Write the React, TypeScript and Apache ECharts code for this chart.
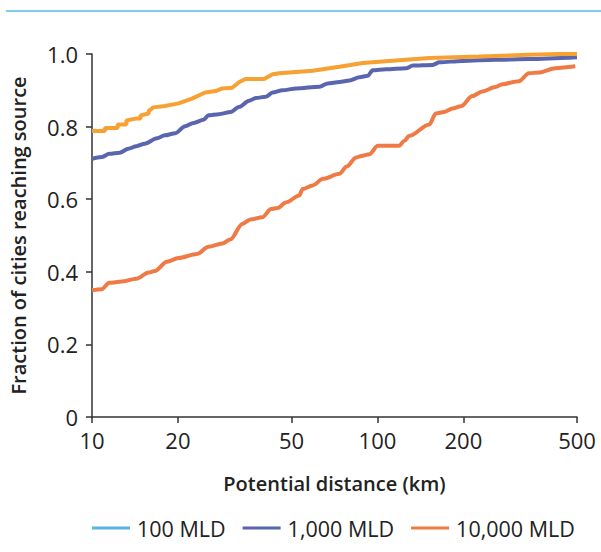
import React, { useEffect, useRef } from "react";
import * as echarts from "echarts";

const xTicks = [10, 20, 50, 100, 200, 500];
const yTicks = [0, 0.2, 0.4, 0.6, 0.8, 1.0];

const seriesNames = ["100 MLD", "1,000 MLD", "10,000 MLD"];

const dist100 = [10, 11.1, 11.1, 12.3, 12.3, 13.2, 13.2, 14.2, 14.8, 14.8, 15.8, 15.8, 16.4, 18.0, 20.1, 22.4, 24.9, 27.1, 28.6, 31.0, 32.7, 34.5, 40.1, 42.9, 45.3, 59.3, 73.6, 88.8, 116, 152, 227, 339, 431, 500];
const frac100 = [0.788, 0.788, 0.796, 0.796, 0.806, 0.806, 0.817, 0.822, 0.822, 0.831, 0.836, 0.843, 0.853, 0.857, 0.864, 0.877, 0.894, 0.898, 0.905, 0.907, 0.922, 0.931, 0.931, 0.944, 0.947, 0.954, 0.965, 0.975, 0.982, 0.989, 0.993, 0.998, 1.0, 1.0];

const dist1000 = [10, 10.8, 11.5, 12.5, 13.4, 14.3, 15.3, 16.9, 18.0, 19.6, 21.2, 22.7, 24.6, 25.6, 27.8, 30.6, 32.7, 35.5, 37.5, 40.6, 42.9, 46.5, 51.9, 62.7, 67.0, 73.6, 79.8, 86.5, 92.5, 96.2, 107, 126, 133, 156, 165, 198, 259, 339, 500];
const frac1000 = [0.711, 0.716, 0.725, 0.728, 0.739, 0.746, 0.753, 0.768, 0.776, 0.782, 0.801, 0.81, 0.819, 0.831, 0.834, 0.84, 0.854, 0.871, 0.879, 0.882, 0.894, 0.9, 0.905, 0.91, 0.919, 0.923, 0.927, 0.936, 0.94, 0.955, 0.958, 0.961, 0.968, 0.97, 0.977, 0.981, 0.984, 0.986, 0.991];

const dist10000 = [10, 10.8, 11.5, 12.7, 14.3, 15.8, 16.6, 18.3, 20.1, 23.3, 25.6, 28.6, 30.6, 33.6, 35.9, 39.5, 42.4, 44.7, 47.8, 53.2, 54.7, 59.3, 64.4, 73.6, 78, 84.2, 87.7, 93.7, 100.3, 119, 124, 129, 152, 160, 171, 183, 196, 215, 233, 259, 274, 313, 339, 367, 420, 493];
const frac10000 = [0.349, 0.352, 0.37, 0.373, 0.381, 0.398, 0.402, 0.428, 0.438, 0.449, 0.469, 0.478, 0.49, 0.532, 0.544, 0.55, 0.573, 0.576, 0.591, 0.61, 0.628, 0.638, 0.656, 0.67, 0.69, 0.715, 0.719, 0.724, 0.747, 0.747, 0.76, 0.774, 0.806, 0.836, 0.84, 0.85, 0.856, 0.884, 0.897, 0.909, 0.917, 0.925, 0.947, 0.949, 0.961, 0.966];

const lineColors = ["#f7a133", "#5a65b0", "#ef7a45"];
const legendColors = ["#5ab3e4", "#5a65b0", "#ef7a45"];

const FONT = "'Open Sans', 'Noto Sans', sans-serif";

function zip(xs: number[], ys: number[]) {
  return xs.map((x, i) => [x, ys[i]]);
}

export default function App() {
  const ref = useRef<HTMLDivElement>(null);
  useEffect(() => {
    if (!ref.current) return;
    const chart = echarts.init(ref.current, null, { renderer: "svg" });
    const datasets = [zip(dist100, frac100), zip(dist1000, frac1000), zip(dist10000, frac10000)];
    chart.setOption({
      animation: false,
      textStyle: { fontFamily: FONT },
      graphic: [
        {
          type: "rect",
          shape: { x: 6, y: 10, width: 595, height: 2 },
          style: { fill: "#7ecbea" },
          silent: true,
        },
      ],
      grid: { left: 92, right: 24, top: 54, bottom: 135, containLabel: false },
      legend: {
        left: 92,
        top: 512,
        padding: [5, 5, 5, 0],
        icon: "rect",
        itemWidth: 38,
        itemHeight: 3,
        itemGap: 17,
        textStyle: { fontSize: 21.5, color: "#222", fontFamily: FONT, padding: [0, 0, 0, 2] },
        data: seriesNames.map((n, i) => ({
          name: n,
          itemStyle: { color: legendColors[i] },
        })),
      },
      xAxis: {
        type: "log",
        logBase: 10,
        min: 10,
        max: 500,
        name: "Potential distance (km)",
        nameLocation: "middle",
        nameGap: 56,
        nameTextStyle: { fontSize: 20, fontWeight: 600, color: "#222", fontFamily: FONT },
        axisLine: { lineStyle: { color: "#333", width: 1.5 } },
        axisTick: { show: true, length: 6, inside: false, customValues: xTicks, lineStyle: { color: "#333", width: 1.5 } },
        axisLabel: { customValues: xTicks, fontSize: 22, color: "#222", margin: 12, formatter: (v: number) => String(Math.round(v)) },
        splitLine: { show: false },
        minorTick: { show: false },
      },
      yAxis: {
        type: "value",
        min: 0,
        max: 1,
        interval: 0.2,
        name: "Fraction of cities reaching source",
        nameLocation: "middle",
        nameGap: 64,
        nameTextStyle: { fontSize: 20, fontWeight: 600, color: "#222", fontFamily: FONT },
        axisLine: { show: true, lineStyle: { color: "#333", width: 1.5 } },
        axisTick: { show: true, length: 6, lineStyle: { color: "#333", width: 1.5 } },
        axisLabel: {
          fontSize: 22,
          color: "#222",
          margin: 14,
          formatter: (v: number) => (v === 0 ? "0" : v.toFixed(1)),
        },
        splitLine: { show: false },
      },
      series: seriesNames.map((n, i) => ({
        name: n,
        type: "line",
        data: datasets[i],
        showSymbol: false,
        symbol: "none",
        smooth: i === 0 ? false : 0.3,
        smoothMonotone: "x",
        z: i === 0 ? 5 : 3 - i + 2,
        lineStyle: { color: lineColors[i], width: 4 },
        itemStyle: { color: lineColors[i] },
      })),
    });
    return () => chart.dispose();
  }, []);
  return (
    <div
      ref={ref}
      style={{ position: "fixed", left: 0, top: 0, width: 601, height: 552, background: "#fff" }}
    />
  );
}
